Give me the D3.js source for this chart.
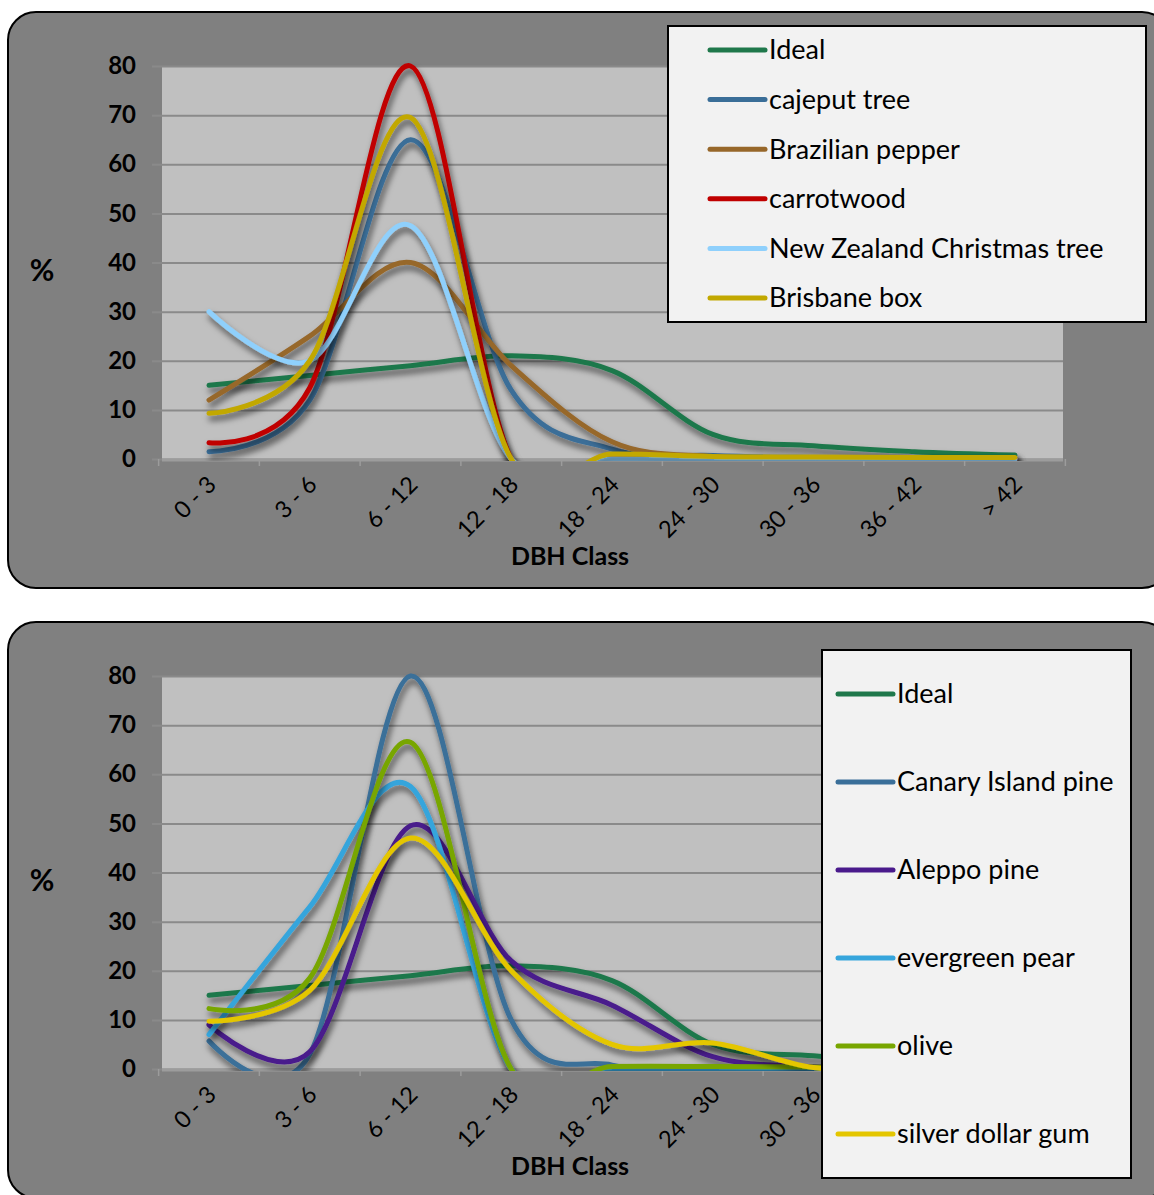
<!DOCTYPE html>
<html>
<head>
<meta charset="utf-8">
<script src="https://d3js.org/d3.v7.min.js"></script>
<style>
  body { margin: 0; background: #fff; }
  svg text { font-family: Lato, "Noto Sans", sans-serif; fill: #000; }
  .ytick text { font-weight: bold; font-size: 24px; }
  .xtick text { font-size: 23.5px; }
  .grid line { stroke: #8a8a8a; stroke-width: 2px; }
  .grid path, .yaxis path, .xaxis path { display: none; }
  .legend text { font-size: 27px; }
</style>
</head>
<body>
<svg id="chart" width="1154" height="1195"></svg>
<script>
// categories and values
var categories = ["0 - 3", "3 - 6", "6 - 12", "12 - 18", "18 - 24", "24 - 30", "30 - 36", "36 - 42", "> 42"];
var yTicks = [0, 10, 20, 30, 40, 50, 60, 70, 80];

var ideal = [15, 17, 19, 21, 18, 5, 2.7, 1.5, 0.8];

// upper chart
var cajeputTree = [1.5, 12, 65, 14, 2, 0.7, 0.3, 0.2, 0.2];
var brazilianPepper = [12, 25, 40, 19, 3.5, 0.5, 0.3, 0.2, 0.2];
var carrotwood = [3.3, 14.5, 80, 0, 0, 0, 0, 0, 0];
var nzChristmasTree = [30, 20, 47.5, 0, 0, 0, 0, 0, 0];
var brisbaneBox = [9.3, 20, 69.5, 0, 1, 0.5, 0.4, 0.3, 0.3];

// lower chart
var canaryIslandPine = [5.7, 3, 80, 10, 0.8, 0.3, 0.2, 0.1, 0];
var aleppoPine = [9, 3.5, 49.5, 22, 13, 2.5, 0.5, 0.2, 0];
var evergreenPear = [7, 33, 57.5, 0, 0, 0, 0, 0, 0];
var olive = [12.3, 18.5, 66.5, 0, 0.5, 0.5, 0.4, 0.3, 0.2];
var silverDollarGum = [9.7, 16, 47, 20, 5, 5.3, 0.3, 0, 0];

var topSeries = [
  {name: "Ideal", color: "#1f784b", values: ideal},
  {name: "cajeput tree", color: "#3a6e98", values: cajeputTree},
  {name: "Brazilian pepper", color: "#97672a", values: brazilianPepper},
  {name: "carrotwood", color: "#c00000", values: carrotwood},
  {name: "New Zealand Christmas tree", color: "#8fd0fc", values: nzChristmasTree},
  {name: "Brisbane box", color: "#c2a800", values: brisbaneBox}
];
var bottomSeries = [
  {name: "Ideal", color: "#1f784b", values: ideal},
  {name: "Canary Island pine", color: "#3a6f99", values: canaryIslandPine},
  {name: "Aleppo pine", color: "#4a1a8c", values: aleppoPine},
  {name: "evergreen pear", color: "#36a5dc", values: evergreenPear},
  {name: "olive", color: "#78a600", values: olive},
  {name: "silver dollar gum", color: "#e4c600", values: silverDollarGum}
];

var svg = d3.select("#chart");
var defs = svg.append("defs");
defs.append("filter").attr("id", "shadow")
    .attr("x", "-10%").attr("y", "-10%").attr("width", "120%").attr("height", "130%")
  .append("feDropShadow")
    .attr("dx", 2).attr("dy", 5).attr("stdDeviation", 3)
    .attr("flood-color", "#000").attr("flood-opacity", 0.6);

function drawChart(id, top, series, legend) {
  var plotL = 162, plotR = 1063,
      plotT = top + 54, plotB = top + 447;

  var x = d3.scalePoint().domain(categories).range([209, 1015]);
  var y = d3.scaleLinear().domain([0, 80]).range([plotB, plotT]);
  var step = x.step();

  var g = svg.append("g");

  g.append("rect")
      .attr("x", 8).attr("y", top).attr("width", 1162).attr("height", 576)
      .attr("rx", 28).attr("ry", 28)
      .attr("fill", "#808080").attr("stroke", "#000").attr("stroke-width", 2);

  g.append("rect")
      .attr("x", plotL).attr("y", plotT)
      .attr("width", plotR - plotL).attr("height", plotB - plotT)
      .attr("fill", "#c0c0c0");

  // grid lines, with their little ticks left of the plot
  g.append("g")
      .attr("class", "grid")
      .attr("transform", "translate(" + (plotL - 10) + ",0)")
      .call(d3.axisLeft(y).tickValues(yTicks).tickFormat("").tickSizeInner(-(plotR - plotL + 10)).tickSizeOuter(0));

  g.append("g")
      .attr("class", "yaxis ytick")
      .attr("transform", "translate(" + plotL + ",0)")
      .call(d3.axisLeft(y).tickValues(yTicks).tickSize(0).tickPadding(26));

  // x axis line and ticks between the classes
  g.append("line")
      .attr("x1", plotL).attr("x2", plotR).attr("y1", plotB + 1).attr("y2", plotB + 1)
      .attr("stroke", "#9c9c9c").attr("stroke-width", 3);
  g.selectAll(".bnd").data(categories.concat([null])).enter().append("line")
      .attr("x1", function(d, i) { return i < categories.length ? x(d) - step / 2 : x(categories[i - 1]) + step / 2; })
      .attr("x2", function(d, i) { return i < categories.length ? x(d) - step / 2 : x(categories[i - 1]) + step / 2; })
      .attr("y1", plotB).attr("y2", plotB + 7)
      .attr("stroke", "#9c9c9c").attr("stroke-width", 1.5);

  var xa = g.append("g")
      .attr("class", "xaxis xtick")
      .attr("transform", "translate(0," + plotB + ")")
      .call(d3.axisBottom(x).tickSize(0));
  xa.selectAll(".tick text")
      .attr("text-anchor", "end")
      .attr("dy", 0)
      .attr("transform", "translate(6,25) rotate(-45)");

  g.append("text")
      .attr("x", 570).attr("y", top + 553)
      .attr("text-anchor", "middle")
      .style("font-weight", "bold").style("font-size", "25px")
      .text("DBH Class");

  g.append("text")
      .attr("x", 42).attr("y", top + 261)
      .attr("text-anchor", "middle")
      .attr("dominant-baseline", "middle")
      .style("font-weight", "bold").style("font-size", "30px")
      .text("%");

  defs.append("clipPath").attr("id", "clip-" + id)
    .append("rect")
      .attr("x", plotL).attr("y", plotT - 8)
      .attr("width", plotR - plotL).attr("height", plotB - plotT + 10);

  var line = d3.line()
      .x(function(d, i) { return x(categories[i]); })
      .y(function(d) { return y(d); })
      .curve(d3.curveCatmullRom.alpha(0));

  var lines = g.append("g").attr("clip-path", "url(#clip-" + id + ")");
  lines.selectAll("path").data(series).enter().append("path")
      .attr("d", function(s) { return line(s.values); })
      .attr("fill", "none")
      .attr("stroke", function(s) { return s.color; })
      .attr("stroke-width", 5)
      .attr("stroke-linejoin", "round")
      .attr("stroke-linecap", "round")
      .attr("filter", "url(#shadow)");

  // legend box
  var lg = g.append("g").attr("class", "legend");
  lg.append("rect")
      .attr("x", legend.x).attr("y", legend.y)
      .attr("width", legend.w).attr("height", legend.h)
      .attr("fill", "#f2f2f2").attr("stroke", "#000").attr("stroke-width", 2);
  var item = lg.selectAll(".item").data(series).enter().append("g")
      .attr("transform", function(s, i) { return "translate(" + legend.lx + "," + (legend.first + i * legend.gap) + ")"; });
  item.append("line")
      .attr("x1", 0).attr("x2", 55)
      .attr("stroke", function(s) { return s.color; })
      .attr("stroke-width", 5).attr("stroke-linecap", "round");
  item.append("text")
      .attr("x", 59).attr("dy", "0.35em")
      .text(function(s) { return s.name; });
}

drawChart("a", 12, topSeries, {x: 668, y: 26, w: 478, h: 296, lx: 710, first: 50, gap: 49.6});
drawChart("b", 622, bottomSeries, {x: 822, y: 650, w: 309, h: 528, lx: 838, first: 694, gap: 88});
</script>
</body>
</html>
